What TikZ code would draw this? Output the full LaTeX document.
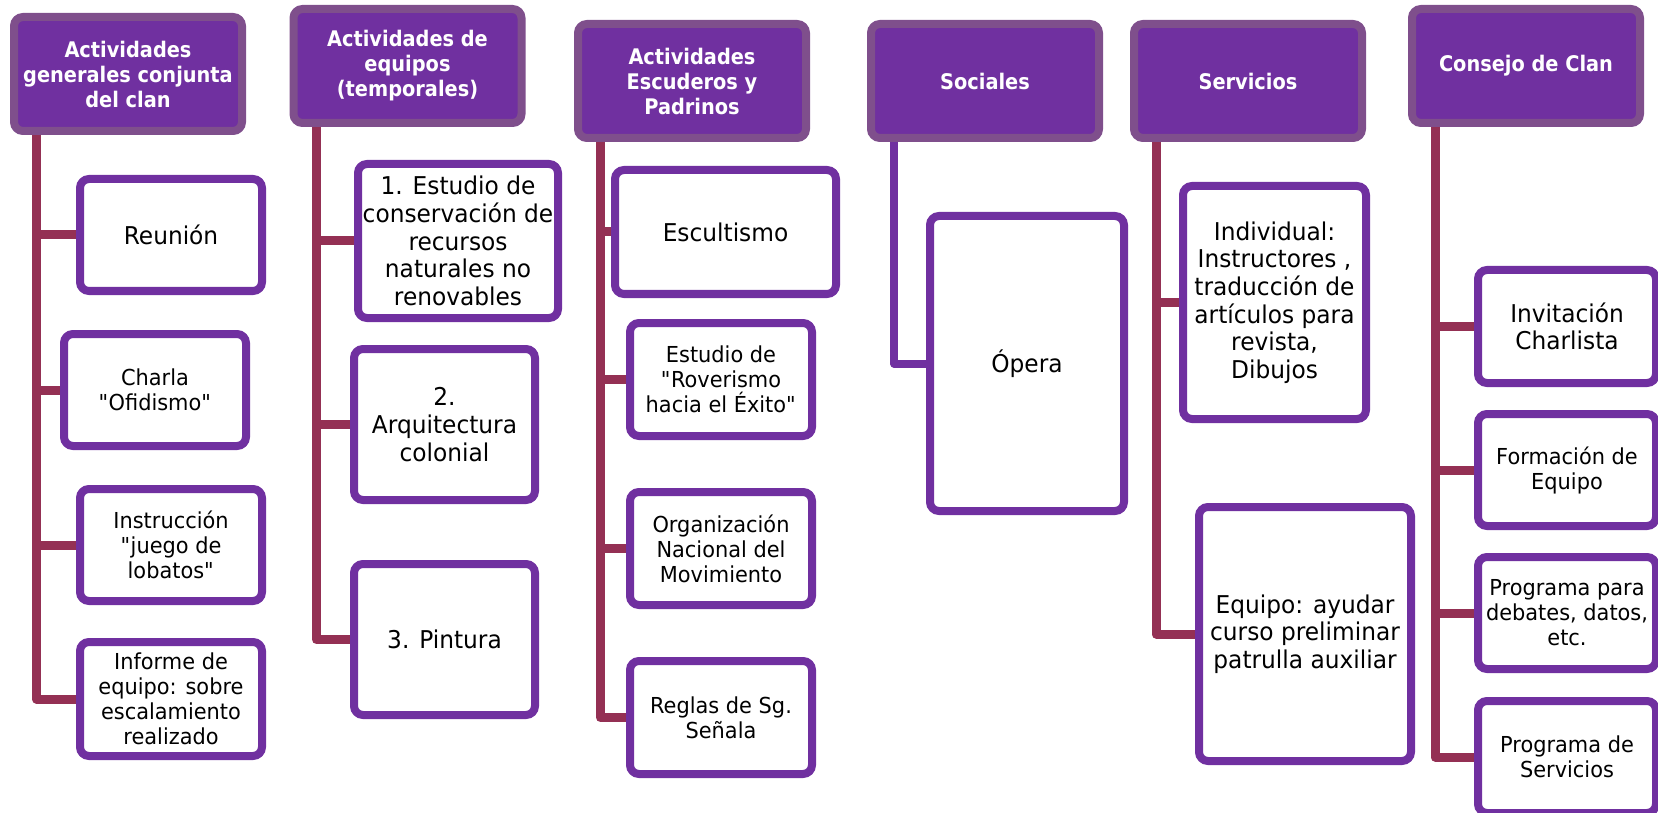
\documentclass[tikz,border=0pt]{standalone}
\usepackage{fontspec}
\setmainfont{DejaVu Sans}[FakeStretch=0.95]
\newfontfamily\hdfont{DejaVu Sans}[FakeStretch=0.9]
\usepackage{xcolor}
\usetikzlibrary{calc}

\definecolor{clanpurple}{HTML}{7030A0}
\definecolor{clanrim}{HTML}{7F4F8C}
\definecolor{clanwine}{HTML}{943054}
\newcommand{\qq}{\textquotedbl}

\begin{document}
\begin{tikzpicture}[x=1pt,y=-1pt,
    hdr/.style={draw=clanrim,fill=clanpurple,line width=8pt,rounded corners=9pt,text=white,align=center,inner sep=0pt,
      font=\hdfont\bfseries\fontsize{21.5}{25}\selectfont,minimum width=228pt,minimum height=114pt},
    itm/.style={draw=clanpurple,fill=white,line width=8pt,rounded corners=9pt,align=center,inner sep=0pt,
      font=\fontsize{24.5}{27.7}\selectfont},
    itms/.style={itm,font=\fontsize{22}{25}\selectfont},
    conn/.style={draw=clanwine,line width=9pt,line join=round}]
    \useasboundingbox (0,0) rectangle (1658,813);

    % cabeceras
    \node[hdr] (h1) at (128,74) {Actividades\\generales conjunta\\del clan};
    \node[hdr] (h2) at (407.5,66) {Actividades de\\equipos\\(temporales)};
    \node[hdr] (h3) at (692,81) {Actividades\\Escuderos y\\Padrinos};
    \node[hdr] (h4) at (985,81) {Sociales};
    \node[hdr] (h5) at (1248,81) {Servicios};
    \node[hdr] (h6) at (1526,66) {Consejo de Clan};

    % actividades generales
    \node[itm,minimum width=182pt,minimum height=112pt] (reu) at (171,235) {Reunión};
    \node[itms,minimum width=182pt,minimum height=112pt] (cha) at (155,390) {Charla\\\qq Ofidismo\qq};
    \node[itms,minimum width=182pt,minimum height=112pt] (ins) at (171,545) {Instrucción\\\qq juego de\\lobatos\qq};
    \node[itms,minimum width=182pt,minimum height=114pt] (inf) at (171,699) {Informe de\\equipo: sobre\\escalamiento\\realizado};

    % equipos
    \node[itm,minimum width=200pt,minimum height=154pt] (est) at (458,241) {1. Estudio de\\conservación de\\recursos\\naturales no\\renovables};
    \node[itm,minimum width=181pt,minimum height=151pt] (arq) at (444.5,424.5) {2.\\Arquitectura\\colonial};
    \node[itm,minimum width=181pt,minimum height=151pt] (pin) at (444.5,639.5) {3. Pintura};

    % escuderos y padrinos
    \node[itm,minimum width=221pt,minimum height=124pt] (esc) at (725.5,232) {Escultismo};
    \node[itms,minimum width=182pt,minimum height=113pt] (rov) at (721,379.5) {Estudio de\\\qq Roverismo\\hacia el Éxito\qq};
    \node[itms,minimum width=182pt,minimum height=113pt] (org) at (721,548.5) {Organización\\Nacional del\\Movimiento};
    \node[itms,minimum width=182pt,minimum height=113pt] (reg) at (721,717.5) {Reglas de Sg.\\Señala};

    % sociales
    \node[itm,minimum width=194pt,minimum height=295pt] (ope) at (1027,363.5) {Ópera};

    % servicios
    \node[itm,minimum width=183pt,minimum height=233pt] (ind) at (1274.5,302.5) {Individual:\\Instructores ,\\traducción de\\artículos para\\revista,\\Dibujos};
    \node[itm,minimum width=212pt,minimum height=254pt] (equ) at (1305,634) {Equipo: ayudar\\curso preliminar\\patrulla auxiliar};

    % consejo de clan
    \node[itm,minimum width=178pt,minimum height=113pt] (inv) at (1567,326.5) {Invitación\\Charlista};
    \node[itms,minimum width=178pt,minimum height=112pt] (for) at (1567,470) {Formación de\\Equipo};
    \node[itms,minimum width=178pt,minimum height=112pt] (pro) at (1567,613) {Programa para\\debates, datos,\\etc.};
    \node[itms,minimum width=178pt,minimum height=112pt] (ser) at (1567,757) {Programa de\\Servicios};

    % conectores
    \coordinate (s1) at ($(h1.south west)+(26.5,0)$);
    \draw[conn] (s1) |- (inf.west);
    \draw[conn] (reu.west) -- (reu.west -| s1);
    \draw[conn] (cha.west) -- (cha.west -| s1);
    \draw[conn] (ins.west) -- (ins.west -| s1);

    \coordinate (s2) at ($(h2.south west)+(27,0)$);
    \draw[conn] (s2) |- (pin.west);
    \draw[conn] (est.west) -- (est.west -| s2);
    \draw[conn] (arq.west) -- (arq.west -| s2);

    \coordinate (s3) at ($(h3.south west)+(26.5,0)$);
    \draw[conn] (s3) |- (reg.west);
    \draw[conn] (esc.west) -- (esc.west -| s3);
    \draw[conn] (rov.west) -- (rov.west -| s3);
    \draw[conn] (org.west) -- (org.west -| s3);

    \coordinate (s4) at ($(h4.south west)+(27,0)$);
    \draw[conn,draw=clanpurple,line width=8pt] (s4) |- (ope.west);

    \coordinate (s5) at ($(h5.south west)+(26,0)$);
    \draw[conn] (s5) |- (equ.west);
    \draw[conn] (ind.west) -- (ind.west -| s5);

    \coordinate (s6) at ($(h6.south west)+(27,0)$);
    \draw[conn] (s6) |- (ser.west);
    \draw[conn] (inv.west) -- (inv.west -| s6);
    \draw[conn] (for.west) -- (for.west -| s6);
    \draw[conn] (pro.west) -- (pro.west -| s6);
\end{tikzpicture}
\end{document}
